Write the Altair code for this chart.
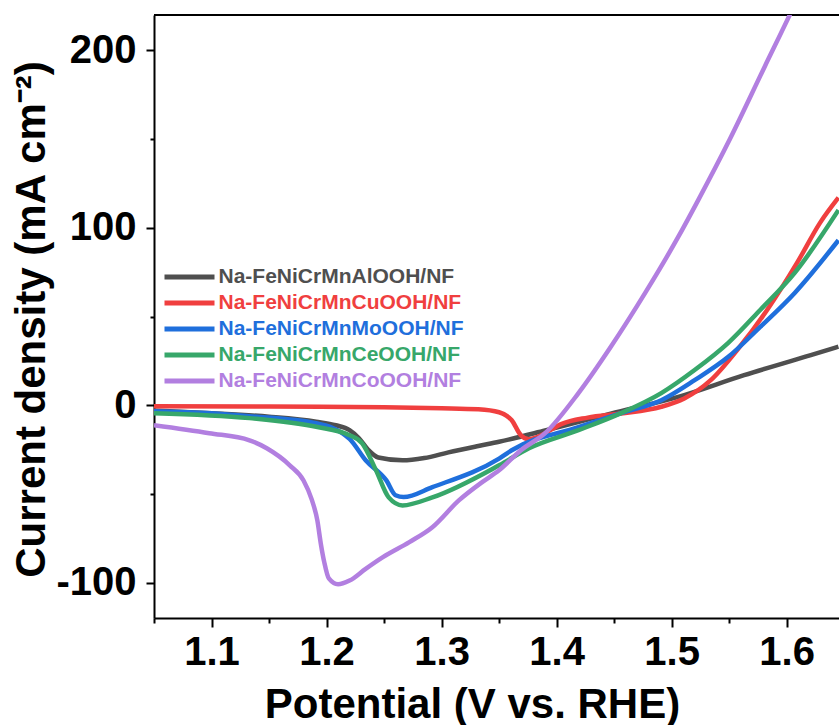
import altair as alt
import pandas as pd

# ---- data ----
series_names = [
    "Na-FeNiCrMnAlOOH/NF",
    "Na-FeNiCrMnCuOOH/NF",
    "Na-FeNiCrMnMoOOH/NF",
    "Na-FeNiCrMnCeOOH/NF",
    "Na-FeNiCrMnCoOOH/NF",
]
series_colors = ["#4f4f4f", "#f03f3f", "#1f6fdc", "#37a76a", "#b27fe0"]

al_x = [1.050, 1.100, 1.150, 1.191, 1.208, 1.220, 1.228, 1.236, 1.245, 1.266, 1.285, 1.306, 1.332, 1.350, 1.390, 1.447, 1.505, 1.563, 1.621, 1.645]
al_y = [-3.0, -4.5, -6.5, -9.3, -11.3, -14.1, -18.5, -25.0, -29.5, -31.1, -29.8, -26.6, -23.0, -20.6, -14.3, -4.8, 4.5, 16.9, 28.2, 33.0]

cu_x = [1.050, 1.150, 1.250, 1.300, 1.332, 1.350, 1.361, 1.369, 1.376, 1.383, 1.390, 1.404, 1.427, 1.456, 1.491, 1.511, 1.534, 1.557, 1.583, 1.609, 1.629, 1.645]
cu_y = [-0.6, -0.8, -1.2, -1.7, -2.3, -4.0, -8.5, -17.0, -19.2, -18.0, -15.8, -10.7, -7.0, -4.7, -0.9, 3.8, 14.1, 31.1, 53.7, 80.2, 102.8, 117.0]

mo_x = [1.050, 1.100, 1.133, 1.191, 1.220, 1.234, 1.252, 1.260, 1.267, 1.292, 1.350, 1.361, 1.419, 1.456, 1.491, 1.520, 1.549, 1.577, 1.607, 1.645]
mo_y = [-3.4, -4.5, -6.2, -10.2, -19.0, -31.1, -42.4, -50.8, -51.8, -46.2, -30.1, -25.4, -12.4, -4.5, 2.8, 14.1, 27.1, 44.1, 63.3, 93.0]

ce_x = [1.050, 1.133, 1.191, 1.220, 1.231, 1.243, 1.254, 1.266, 1.292, 1.350, 1.376, 1.419, 1.456, 1.491, 1.520, 1.549, 1.577, 1.607, 1.645]
ce_y = [-4.5, -7.3, -12.2, -16.9, -21.5, -36.7, -52.0, -56.5, -52.0, -33.9, -24.3, -14.1, -4.5, 6.8, 19.8, 35.0, 53.7, 74.6, 110.0]

co_x = [1.050, 1.098, 1.133, 1.148, 1.168, 1.180, 1.187, 1.192, 1.195, 1.198, 1.202, 1.210, 1.220, 1.234, 1.249, 1.272, 1.292, 1.315, 1.335, 1.350, 1.369, 1.390, 1.419, 1.447, 1.477, 1.505, 1.523, 1.551, 1.581, 1.603, 1.612]
co_y = [-11.3, -15.8, -19.8, -24.3, -33.9, -42.5, -53.0, -65.0, -78.0, -88.5, -97.7, -101.0, -98.9, -92.3, -85.7, -77.2, -68.8, -53.7, -43.5, -36.7, -25.4, -15.8, 6.8, 32.8, 63.3, 94.0, 115.5, 150.5, 191.0, 220.5, 233.0]

x_major = [1.1, 1.2, 1.3, 1.4, 1.5, 1.6]
x_minor = [1.05, 1.15, 1.25, 1.35, 1.45, 1.55]
y_major = [-100, 0, 100, 200]
y_minor = [-50, 50, 150]
x_domain = [1.05, 1.6455]
y_domain = [-120, 220]

frames = []
for name, xs, ys in zip(series_names, [al_x, cu_x, mo_x, ce_x, co_x], [al_y, cu_y, mo_y, ce_y, co_y]):
    frames.append(pd.DataFrame({"series": name, "v": xs, "j": ys}))
df = pd.concat(frames, ignore_index=True)

FONT = "Liberation Sans"
xscale = alt.Scale(domain=x_domain, nice=False, zero=False)
yscale = alt.Scale(domain=y_domain, nice=False, zero=False)

x_axis = alt.Axis(
    orient="bottom", values=x_major, format=".1f", grid=False,
    domainColor="black", domainWidth=2, tickColor="black", tickWidth=2, tickSize=9,
    labelFont=FONT, labelFontSize=40, labelFontWeight="bold", labelColor="black",
    labelPadding=5, labelFlush=False, labelOverlap=False,
    title="Potential (V vs. RHE)", titleFont=FONT, titleFontSize=42, titleFontWeight="bold",
    titleColor="black", titleX=318, titleY=99, titleAlign="center", titleBaseline="alphabetic",
)
y_axis = alt.Axis(
    orient="left", values=y_major, grid=False,
    labelExpr="'' + datum.value",
    domainColor="black", domainWidth=2, tickColor="black", tickWidth=2, tickSize=8,
    labelFont=FONT, labelFontSize=40, labelFontWeight="bold", labelColor="black",
    labelPadding=10, labelFlush=False, labelOverlap=False,
    title="Current density (mA cm⁻²)", titleFont=FONT, titleFontSize=42, titleFontWeight="bold",
    titleColor="black", titleAngle=270, titleX=-123, titleY=304, titleAlign="center",
    titleBaseline="middle",
)
x_minor_axis = alt.Axis(
    orient="bottom", values=x_minor, grid=False, domain=False, labels=False,
    tickColor="black", tickWidth=2, tickSize=5, title=None,
)
y_minor_axis = alt.Axis(
    orient="left", values=y_minor, grid=False, domain=False, labels=False,
    tickColor="black", tickWidth=2, tickSize=4, title=None,
)

lines = alt.Chart(df).mark_line(strokeWidth=4.5, clip=True, interpolate="monotone").encode(
    x=alt.X("v:Q", scale=xscale, axis=x_axis),
    y=alt.Y("j:Q", scale=yscale, axis=y_axis),
    color=alt.Color(
        "series:N",
        scale=alt.Scale(domain=series_names, range=series_colors),
        sort=series_names,
        legend=alt.Legend(
            orient="none", legendX=20.5, legendY=247, title=None,
            symbolType="M-2,0H2", symbolSize=625, symbolStrokeWidth=5,
            labelFont=FONT, labelFontSize=21, labelFontWeight="bold",
            labelColor=alt.ExprRef(expr="scale('color', datum.value)"),
            labelOffset=14, labelLimit=0, rowPadding=1, padding=0,
        ),
    ),
)

frame = alt.Chart(df).mark_rule(color="black", strokeWidth=2).encode(
    x=alt.XDatum(x_domain[0], type="quantitative", scale=xscale, axis=x_minor_axis),
    x2=alt.X2Datum(x_domain[1]),
    y=alt.YDatum(y_domain[1], type="quantitative", scale=yscale, axis=y_minor_axis),
)

chart = alt.layer(frame, lines).resolve_axis(x="independent", y="independent").properties(
    width=685, height=603,
    autosize=alt.AutoSizeParams(type="none"),
    padding={"left": 154, "top": 15, "right": 0, "bottom": 107},
).configure_view(stroke=None).configure(background="white")

chart.save("out.html", embed_options={"renderer": "svg", "actions": False})
